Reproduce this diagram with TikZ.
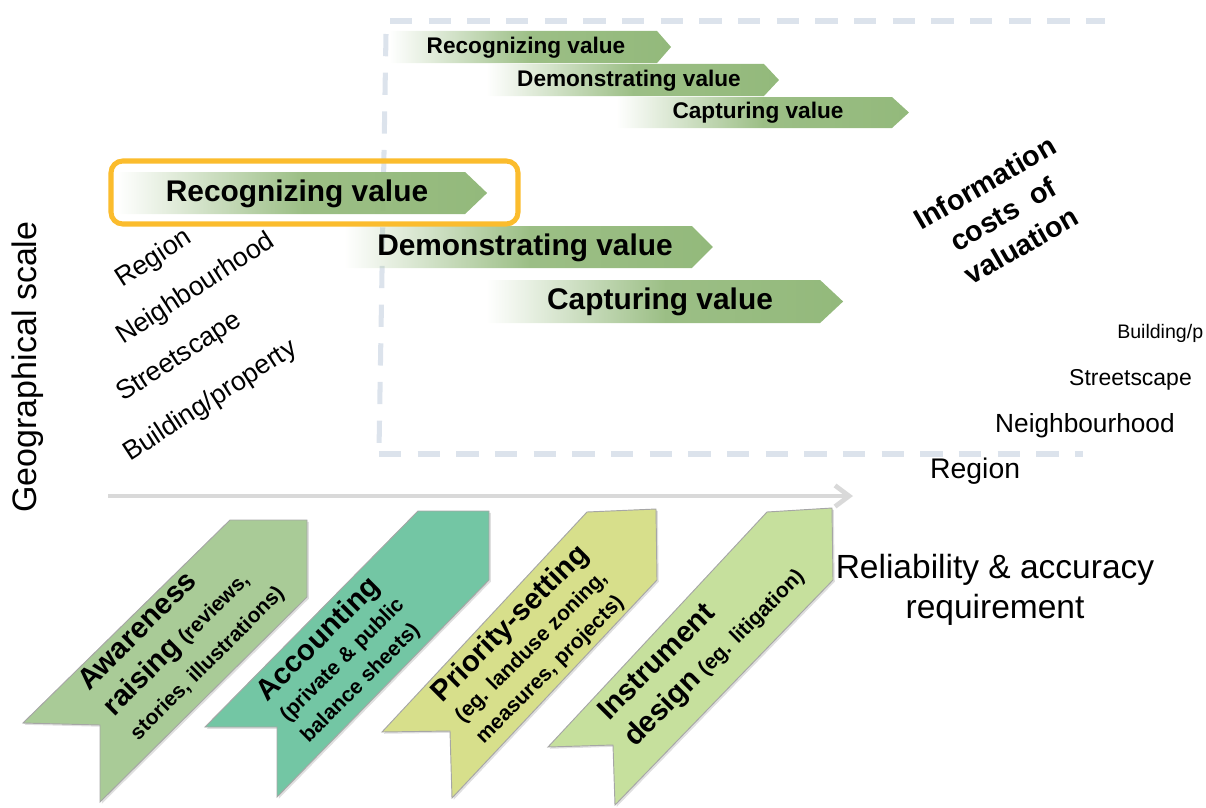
\documentclass[tikz,border=0pt]{standalone}
\usepackage{fontspec}
\setmainfont{Liberation Sans}
\usetikzlibrary{arrows.meta,fadings,shadows}

\definecolor{arrgreen}{HTML}{93B97B}
\definecolor{dashcol}{HTML}{DCE3EC}
\definecolor{axiscol}{HTML}{D9D9D9}
\definecolor{orng}{HTML}{FBBC2D}
\definecolor{ribA}{HTML}{A9CB97}
\definecolor{ribB}{HTML}{73C6A4}
\definecolor{ribC}{HTML}{D7DF8B}
\definecolor{ribD}{HTML}{C6E09D}

\tikzfading[name=arrowfade, left color=transparent!100, right color=transparent!0, middle color=transparent!8]

\newcommand{\valarrow}[5]{\fill[arrgreen, path fading=arrowfade] (#1,#2) -- (#4,#2) -- (#5,{(#2+#3)/2}) -- (#4,#3) -- (#1,#3) -- cycle;}
\newcommand{\rbig}{\fontsize{25}{25}\selectfont\bfseries}
\newcommand{\rsml}{\fontsize{18}{25}\selectfont\bfseries}

\tikzset{
  dashline/.style={draw=dashcol, line width=4.3pt, dash pattern=on 19pt off 14pt},
  axisline/.style={draw=axiscol, line width=4pt, -{Straight Barb[length=12pt,width=18pt]}},
  bigval/.style={font=\fontsize{25.5}{30}\selectfont\bfseries, inner sep=0pt},
  smallval/.style={font=\fontsize{19.3}{23}\selectfont\bfseries, inner sep=0pt},
  geolab/.style={font=\fontsize{22.8}{27}\selectfont, inner sep=0pt, anchor=base west, rotate=33},
  ribbon/.style={draw=gray!70, line width=0.8pt, drop shadow={opacity=0.25, shadow xshift=1.5pt, shadow yshift=-1.5pt}},
  ribtext/.style={font={\rsml\lineskiplimit=-50pt}, align=left, rotate=45, inner sep=0pt, anchor=west},
}

\begin{document}
\begin{tikzpicture}[x=0.03cm, y=-0.03cm]
\useasboundingbox (0,0) rectangle (1206,807);

% dashed frame
\coordinate (dtl) at (390,21);
\coordinate (dtr) at (1105,21);
\coordinate (dlt) at (386,34);
\coordinate (dlb) at (379,450);
\coordinate (dbl) at (379,454);
\coordinate (dbr) at (1083,454);
\draw[dashline] (dtl) -- (dtr);
\draw[dashline] (dlt) -- (dlb);
\draw[dashline] (dbl) -- (dbr);

% horizontal axis
\coordinate (ax0) at (108,496);
\coordinate (ax1) at (853,496);
\draw[axisline] (ax0) -- (ax1);

% value arrows (small, top)
\valarrow{390}{31}{63}{657}{671}
\valarrow{487}{64}{96}{764}{779}
\valarrow{617}{97}{128}{892}{909}
\node[smallval] (sv1) at (526,48) {Recognizing value};
\node[smallval] (sv2) at (629,81) {Demonstrating value};
\node[smallval] (sv3) at (758,113) {Capturing value};

% value arrows (big)
\valarrow{118}{172}{214}{465}{487}
\valarrow{345}{226}{268}{692}{713}
\valarrow{487}{280}{323}{820}{843}
\node[bigval] (bv1) at (297,194) {Recognizing value};
\node[bigval] (bv2) at (525,248) {Demonstrating value};
\node[bigval] (bv3) at (660,302) {Capturing value};

% highlight box
\draw[orng, line width=4.3pt, rounded corners=10pt] (111,161) rectangle (518,224);

% geographical scale labels (left)
\node[geolab] (lreg) at (122,288) {Region};
\node[geolab] (lnei) at (123,345) {Neighbourhood};
\node[geolab] (lstr) at (123,402) {Streetscape};
\node[geolab] (lbui) at (130,462) {Building/property};

% axis titles
\node[font=\fontsize{29}{34}\selectfont, rotate=90, inner sep=0pt] (geo) at (28,367) {Geographical scale};
\node[font=\fontsize{28.6}{34}\selectfont, align=center, inner sep=0pt] (rel) at (995,590) {Reliability \& accuracy\\requirement};

% information costs
\node[font=\fontsize{24.5}{31}\selectfont\bfseries, align=center, rotate=30, inner sep=0pt] (info) at (1003,214) {Information\\costs\ \ of\\valuation};

% right scale labels
\node[font=\fontsize{16.7}{20}\selectfont, anchor=base west, inner sep=0pt] (rbui) at (1117,338) {Building/p};
\node[font=\fontsize{19.6}{23}\selectfont, anchor=base west, inner sep=0pt] (rstr) at (1069,385) {Streetscape};
\node[font=\fontsize{22.4}{26}\selectfont, anchor=base west, inner sep=0pt] (rnei) at (995,432) {Neighbourhood};
\node[font=\fontsize{24.2}{28}\selectfont, anchor=base west, inner sep=0pt] (rreg) at (930,478) {Region};

% ribbons
\path[ribbon, fill=ribA] (230,520) -- (307,520) -- (307,597) -- (100,802) -- (100,725) -- (23,723) -- cycle;
\path[ribbon, fill=ribB] (418,511) -- (489,511) -- (489,580) -- (277,797) -- (277,727) -- (205,727) -- cycle;
\path[ribbon, fill=ribC] (587,512) -- (656,509) -- (657,580) -- (452,798) -- (450,731) -- (382,732) -- cycle;
\path[ribbon, fill=ribD] (767,512) -- (832,508) -- (833,580) -- (615,805) -- (613,745) -- (548,747) -- cycle;

\node[ribtext] (tA) at (108,711) {{\rbig Awareness}\\[5.5pt]{\rbig raising} (reviews,\\[4pt]stories, illustrations)};
\node[ribtext] (tB) at (282,717) {{\rbig Accounting}\\(private \& public\\balance sheets)};
\node[ribtext] (tC) at (457,718) {{\rbig Priority-setting}\\(eg. landuse zoning,\\measures, projects)};
\node[ribtext] (tD) at (617,730) {{\rbig Instrument}\\[6.5pt]{\rbig design} (eg. litigation)};
\end{tikzpicture}
\end{document}
